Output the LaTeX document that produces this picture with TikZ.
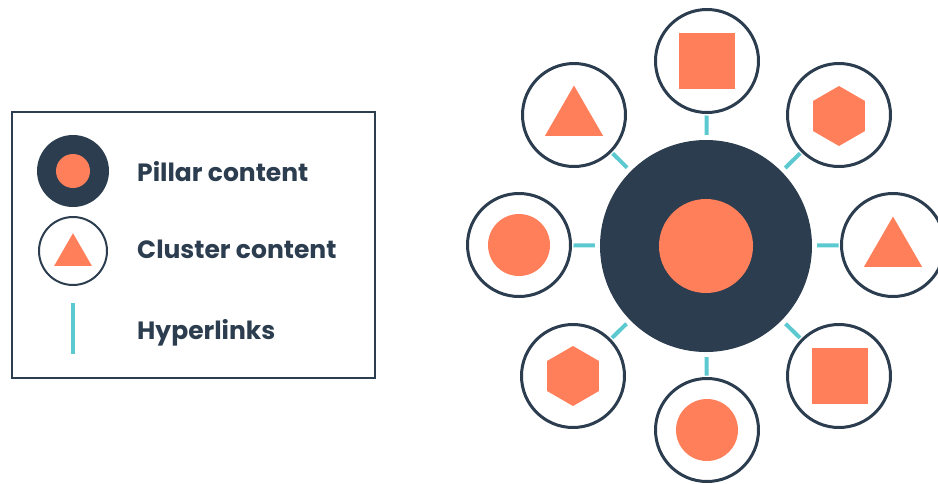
\documentclass[tikz,border=0pt]{standalone}
\usepackage{fontspec}
\setmainfont{Poppins}
\usetikzlibrary{shapes.geometric}
\definecolor{navy}{HTML}{2B3D4F}
\definecolor{coral}{HTML}{FF7F5B}
\definecolor{linkteal}{HTML}{5CC8CF}
\begin{document}
\begin{tikzpicture}[x=1pt,y=-1pt,
  sat/.style={circle,draw=navy,line width=3pt,minimum size=103pt,inner sep=0pt,fill=white},
  sq/.style={rectangle,fill=coral,minimum size=56pt,inner sep=0pt},
  tri/.style={regular polygon,regular polygon sides=3,fill=coral,minimum size=67pt,inner sep=0pt},
  hex/.style={regular polygon,regular polygon sides=6,shape border rotate=30,fill=coral,minimum size=60pt,inner sep=0pt},
  dot/.style={circle,fill=coral,minimum size=62pt,inner sep=0pt},
  link/.style={draw=linkteal,line width=4pt,shorten <=1.5pt,shorten >=5pt},
  lbl/.style={anchor=base west,inner sep=0pt,text=navy,font=\bfseries\fontsize{25}{29}\selectfont}]
\useasboundingbox (0,0) rectangle (938,483);
% legend
\node[draw=navy,line width=2.5pt,minimum width=362.6pt,minimum height=265.6pt,inner sep=0pt] (legend) at (193.5,245) {};
\node[circle,fill=navy,minimum size=72pt,inner sep=0pt] (lp) at (73,171) {};
\node[dot,minimum size=34pt] (lpcore) at (73,171) {};
\node[circle,draw=navy,line width=2pt,minimum size=68pt,inner sep=0pt] (lc) at (73,251) {};
\node[tri,minimum size=43.6pt] (lctri) at (73,255) {};
\coordinate (h1) at (73,303);
\coordinate (h2) at (73,354);
\draw[linkteal,line width=4pt] (h1) -- (h2);
\node[lbl] (t1) at (137,181.7) {Pillar content};
\node[lbl] (t2) at (137,258.3) {Cluster content};
\node[lbl] (t3) at (137,339) {Hyperlinks};
% pillar
\node[circle,fill=navy,minimum size=212pt,inner sep=0pt] (pillar) at (706,246) {};
\node[dot,minimum size=94pt] (pcore) at (706,246) {};
% satellites
\node[sat] (top) at (707,61) {};
\node[sat] (tr) at (839,115) {};
\node[sat] (r) at (893,245) {};
\node[sat] (br) at (839,376) {};
\node[sat] (b) at (707,430) {};
\node[sat] (bl) at (573,376) {};
\node[sat] (l) at (519,245) {};
\node[sat] (tl) at (574,115) {};
\node[sq] (topS) at (707,61) {};
\node[hex] (trS) at (839,116) {};
\node[tri] (rS) at (893,250) {};
\node[sq] (brS) at (840,376) {};
\node[dot] (bS) at (707,430) {};
\node[hex] (blS) at (573,376) {};
\node[dot] (lS) at (519,245) {};
\node[tri] (tlS) at (574,119) {};
% links
\foreach \s in {top,tr,r,br,b,bl,l,tl}{
  \draw[link] (\s) -- (pillar);
}
\end{tikzpicture}
\end{document}
